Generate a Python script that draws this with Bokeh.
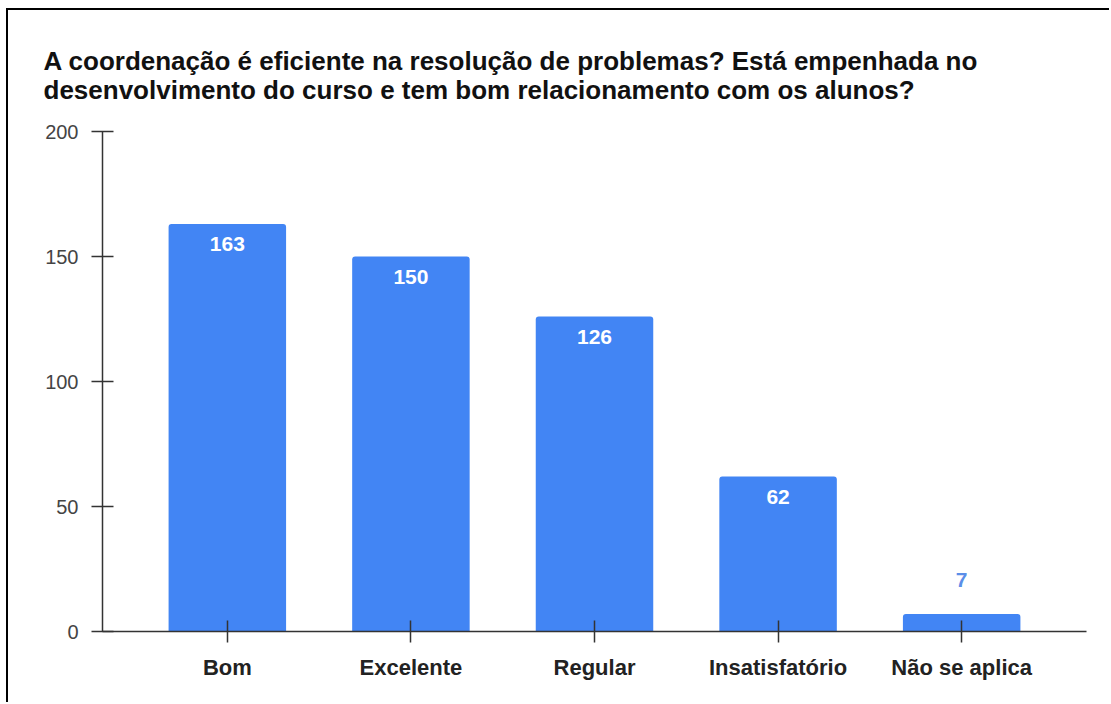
from bokeh.plotting import figure
from bokeh.models import FactorRange, Range1d, ColumnDataSource
from bokeh.core.properties import value
from bokeh.embed import file_html
from bokeh.resources import INLINE

categories = ["Bom", "Excelente", "Regular", "Insatisfatório", "Não se aplica"]
counts = [163, 150, 126, 62, 7]
y_ticks = [0, 50, 100, 150, 200]
title_lines = ["A coordenação é eficiente na resolução de problemas? Está empenhada no",
               "desenvolvimento do curso e tem bom relacionamento com os alunos?"]

FONT = "Liberation Sans"
BAR = "#4285f4"

p = figure(width=1103, height=694, output_backend="svg", toolbar_location=None,
           x_range=FactorRange(factors=categories, range_padding=0.18, range_padding_units="absolute"),
           y_range=Range1d(0, 200),
           min_border_left=94, min_border_right=25, min_border_bottom=73, min_border_top=121)
p.styles = {"border-left": "2px solid black", "border-top": "2px solid black",
            "margin-left": "6px", "margin-top": "8px"}

p.title.text = "\n".join(title_lines)
p.title.text_font = FONT
p.title.text_font_size = "26px"
p.title.text_font_style = "bold"
p.title.text_color = "#111111"
p.title.text_line_height = 0.96
p.title.align = "left"
p.title.offset = -59
p.title.standoff = 53

src = ColumnDataSource(dict(cat=categories, val=counts))
p.vbar(x="cat", top="val", width=0.64, source=src, fill_color=BAR, line_color=None,
       border_radius=[3, 3, 0, 0])

thr = 20
in_src = ColumnDataSource(dict(cat=[c for c, v in zip(categories, counts) if v >= thr],
                               val=[v for v in counts if v >= thr],
                               lab=[str(v) for v in counts if v >= thr]))
out_src = ColumnDataSource(dict(cat=[c for c, v in zip(categories, counts) if v < thr],
                                val=[v for v in counts if v < thr],
                                lab=[str(v) for v in counts if v < thr]))
p.text(x="cat", y="val", text="lab", source=in_src, text_align="center", text_baseline="top",
       y_offset=13, text_color="white", text_font=value(FONT), text_font_size="21px",
       text_font_style="bold")
p.text(x="cat", y="val", text="lab", source=out_src, text_align="center", text_baseline="alphabetic",
       y_offset=-34, text_color="#5b8ee8", text_font=value(FONT), text_font_size="21px",
       text_font_style="bold")

p.grid.visible = False
p.outline_line_color = None

for ax in (p.xaxis[0], p.yaxis[0]):
    ax.axis_line_color = "#333333"
    ax.axis_line_width = 1.5
    ax.major_tick_line_color = "#333333"
    ax.major_tick_line_width = 1.5
    ax.major_tick_in = 11
    ax.major_tick_out = 11
    ax.minor_tick_line_color = None

p.yaxis.ticker = y_ticks
p.yaxis.major_label_text_font = FONT
p.yaxis.major_label_text_font_size = "20px"
p.yaxis.major_label_text_color = "#444444"
p.yaxis.major_label_standoff = 13

p.xaxis.major_label_text_font = FONT
p.xaxis.major_label_text_font_size = "22px"
p.xaxis.major_label_text_font_style = "bold"
p.xaxis.major_label_text_color = "#222222"
p.xaxis.major_label_standoff = 12

open("out.html", "w").write(file_html(p, INLINE))
